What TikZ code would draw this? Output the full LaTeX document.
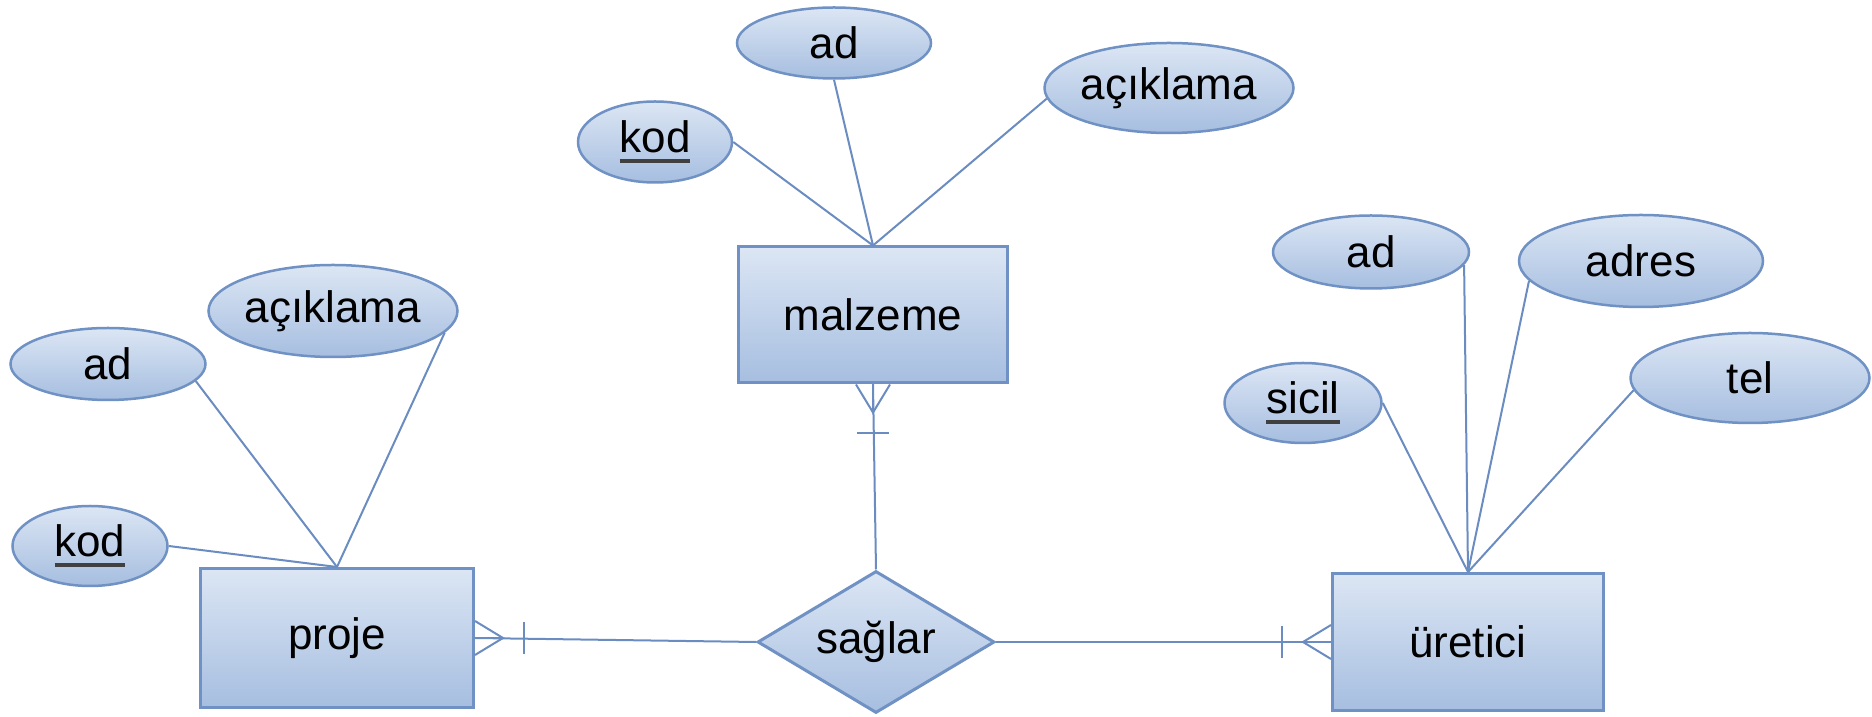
\documentclass[tikz,border=0pt]{standalone}
\usepackage{fontspec}
\setmainfont{Liberation Sans}
\usetikzlibrary{shapes.geometric}

\definecolor{fillTop}{HTML}{DCE6F4}
\definecolor{fillBot}{HTML}{A6BEE0}
\definecolor{edgeBlue}{HTML}{6F91C3}
\definecolor{lineBlue}{HTML}{6A8CC0}
\definecolor{keyLine}{HTML}{404040}

% underlined key attribute
\newcommand{\keyattr}[1]{\setbox0=\hbox{#1}\rlap{\color{keyLine}\rule[-10pt]{\wd0}{4pt}}\box0}

\begin{document}
\begin{tikzpicture}
        [x=1pt, y=1pt, font=\fontsize{44}{52}\selectfont,
        entity/.style={rectangle, draw=edgeBlue, line width=3pt, top color=fillTop, bottom color=fillBot, inner sep=0pt},
        attrib/.style={ellipse, draw=edgeBlue, line width=2.5pt, top color=fillTop, bottom color=fillBot, inner sep=0pt},
        relation/.style={diamond, aspect=1.67, draw=edgeBlue, line width=3pt, top color=fillTop, bottom color=fillBot, inner sep=0pt,
                         minimum width=237pt, minimum height=142pt},
        link/.style={lineBlue, line width=2pt},
        crowfoot/.pic={
            \draw[link] (0,17) -- (28,0) -- (0,-17);
            \draw[link] (0,0) -- (28,0);
            \draw[link] (49,16) -- (49,-16);
        }]

        \useasboundingbox (0,0) rectangle (1872,717);

        % --- entities and relation ---
        \node[entity, minimum width=273pt, minimum height=139pt] (proje) at (337,79) {proje};
        \node[entity, minimum width=269pt, minimum height=136pt] (malzeme) at (873,402) {malzeme};
        \node[entity, minimum width=271pt, minimum height=137pt] (uretici) at (1468,75) {üretici};
        \node[relation] (saglar) at (876,75) {sağlar};

        % --- attributes of proje ---
        \node[attrib, minimum width=195pt, minimum height=72pt] (pad) at (108,353) {ad};
        \node[attrib, minimum width=245pt, minimum height=92pt] (pacik) at (333,406) {açıklama};
        \node[attrib, minimum width=155pt, minimum height=80pt] (pkod) at (90,171) {\keyattr{kod}};

        % --- attributes of malzeme ---
        \node[attrib, minimum width=194pt, minimum height=71pt] (mad) at (834,674) {ad};
        \node[attrib, minimum width=154pt, minimum height=81pt] (mkod) at (655,575) {\keyattr{kod}};
        \node[attrib, minimum width=243pt, minimum height=90pt] (macik) at (1169,629) {açıklama};

        % --- attributes of üretici ---
        \node[attrib, minimum width=196pt, minimum height=73pt] (uad) at (1371,465) {ad};
        \node[attrib, minimum width=244pt, minimum height=92pt] (uadres) at (1641,456) {adres};
        \node[attrib, minimum width=157pt, minimum height=80pt] (usicil) at (1303,314) {\keyattr{sicil}};
        \node[attrib, minimum width=239pt, minimum height=90pt] (utel) at (1750,339) {tel};

        \draw[link] (pad.-11) -- (proje.north);
        \draw[link] (pacik.-11) -- (proje.north);
        \draw[link] (pkod.east) -- (proje.north);

        \draw[link] (mad.south) -- (malzeme.north);
        \draw[link] (mkod.east) -- (malzeme.north);
        \draw[link] (macik.185) -- (malzeme.north);

        \draw[link] (uad.-8) -- (uretici.north);
        \draw[link] (uadres.190) -- (uretici.north);
        \draw[link] (usicil.east) -- (uretici.north);
        \draw[link] (utel.186) -- (uretici.north);

        % --- relationship lines with crow's feet ---
        \draw[link] (proje.east) -- (saglar.west);
        \draw[link] (saglar.east) -- (uretici.west);
        \draw[link] (malzeme.south) -- (saglar.north);

        \pic at (proje.east) {crowfoot};
        \pic[rotate=180] at (uretici.west) {crowfoot};
        \pic[rotate=-90] at (malzeme.south) {crowfoot};
    \end{tikzpicture}
\end{document}
